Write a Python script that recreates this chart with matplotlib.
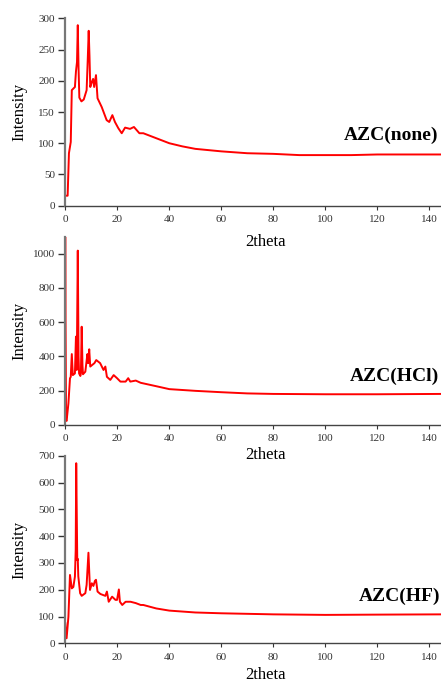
"""Three stacked XRD patterns: AZC(none), AZC(HCl), AZC(HF)."""
import matplotlib
matplotlib.use("Agg")
import matplotlib.pyplot as plt

plt.rcParams["font.family"] = ["Liberation Serif", "DejaVu Serif"]

# values (2theta, intensity)
none_x = [0, 0.9, 1.4, 2.1, 2.5, 3.7, 4.1, 4.5, 4.8, 5.1, 5.4, 6.2, 7.1, 8.2, 8.6, 9.0,
          9.3, 9.6, 10.2, 10.7, 11.1, 11.8, 12.4, 14.0, 15.9, 16.9, 18.1, 19.1, 20.4,
          21.7, 23.0, 24.9, 26.4, 28.5, 30, 35, 40, 45, 50, 60, 70, 80, 90, 100, 110,
          120, 130, 145]
none_y = [16, 16, 84, 102, 185, 190, 215, 230, 289, 220, 173, 167, 170, 185, 230, 280,
          240, 190, 198, 203, 190, 209, 172, 158, 137, 134, 145, 134, 124,
          116, 125, 123, 126, 116, 116, 108, 100, 95, 91, 87, 84, 83, 81, 81, 81,
          82, 82, 82]

hcl_x = [0.05, 0.1, 0.3, 0.5, 1.2, 1.8, 2.1, 2.5, 2.9, 3.7, 4.1, 4.4, 4.8, 5.1, 5.3,
         5.8, 6.0, 6.3, 6.6, 6.8, 7.7, 8.5, 8.8, 9.2, 9.6, 11.2, 11.9, 13.4, 14.7,
         15.4, 16.0, 17.3, 18.6, 19.9, 21.2, 23.2, 24.2, 25.0, 27.1, 29.0, 35, 40, 50,
         60, 70, 80, 100, 120, 145]
hcl_y = [1150, 600, 27, 22, 125, 271, 280, 413, 290, 300, 515, 320, 1018, 400, 300,
         285, 300, 573, 350, 295, 310, 413, 360, 441, 340, 360, 378, 360, 320,
         340, 280, 262, 290, 272, 252, 252, 272, 252, 258, 245, 225, 208, 198,
         190, 183, 180, 178, 178, 180]

hf_x = [0, 0.3, 0.5, 1.2, 1.8, 2.5, 3.1, 3.7, 4.0, 4.2, 4.6, 4.8, 5.0, 5.7, 6.3, 7.7,
        8.2, 8.9, 9.5, 10.2, 10.8, 11.4, 11.8, 12.4, 13.5, 15.4, 16.0, 16.7, 18.0,
        19.3, 19.9, 20.6, 21.0, 21.9, 23.2, 25.1, 27.1, 29.0, 30, 35, 40, 50, 60, 80,
        100, 120, 145]
hf_y = [75, 19, 19, 99, 255, 205, 210, 249, 348, 672, 310, 315, 250, 187, 177, 187,
        218, 338, 199, 224, 214, 233, 237, 193, 184, 177, 193, 155, 174,
        162, 162, 201, 155, 143, 155, 155, 150, 143, 143, 130, 122, 115, 112, 108,
        106, 107, 108]

labels = ["AZC(none)", "AZC(HCl)", "AZC(HF)"]
series = [(none_x, none_y), (hcl_x, hcl_y), (hf_x, hf_y)]
y_limits = [300, 1100, 700]
y_steps = [50, 200, 100]
label_pos = [(107.0, 113), (109.5, 281), (112.7, 174)]
xlabel_y = [-0.192, -0.162, -0.170]

W, H = 441, 682
fig = plt.figure(figsize=(W / 100, H / 100), dpi=100, facecolor="white")

# axes boxes in pixels: (bottom spine y, top y)
boxes = [(205.7, 18.3), (424.7, 236.6), (643.3, 455.7)]
left_px = 65.3

for i, ((xs, ys), (ybot, ytop)) in enumerate(zip(series, boxes)):
    ax = fig.add_axes([left_px / W, 1 - ybot / H, (W - left_px) / W, (ybot - ytop) / H])
    ax.patch.set_visible(False)
    ax.plot(xs, ys, color="red", lw=1.4)
    ax.set_xlim(0, 144.5)
    ax.set_ylim(0, y_limits[i])
    ax.set_xticks(range(0, 141, 20))
    ax.set_yticks(range(0, y_limits[i] + 1, y_steps[i]))
    for s in ("top", "right"):
        ax.spines[s].set_visible(False)
    ax.spines["left"].set_color("#777777")
    ax.spines["left"].set_linewidth(1.6)
    ax.spines["bottom"].set_color("#444444")
    ax.spines["bottom"].set_linewidth(1.0)
    ax.tick_params(axis="y", direction="out", length=5, width=1, pad=2.5,
                   labelsize=8, colors="#333333")
    ax.tick_params(axis="x", direction="out", length=3, width=0.8, pad=4,
                   labelsize=8, colors="#333333")
    ax.set_ylabel("Intensity", fontsize=12)
    ax.yaxis.set_label_coords(-0.100, 0.5)
    ax.text(0.534, xlabel_y[i], "2theta", transform=ax.transAxes, fontsize=12,
            ha="center", va="center", clip_on=False)
    ax.text(label_pos[i][0], label_pos[i][1], labels[i], fontsize=14, fontweight="bold",
            ha="left", va="center", clip_on=False)

fig.savefig("out.png", dpi=100, facecolor="white")
